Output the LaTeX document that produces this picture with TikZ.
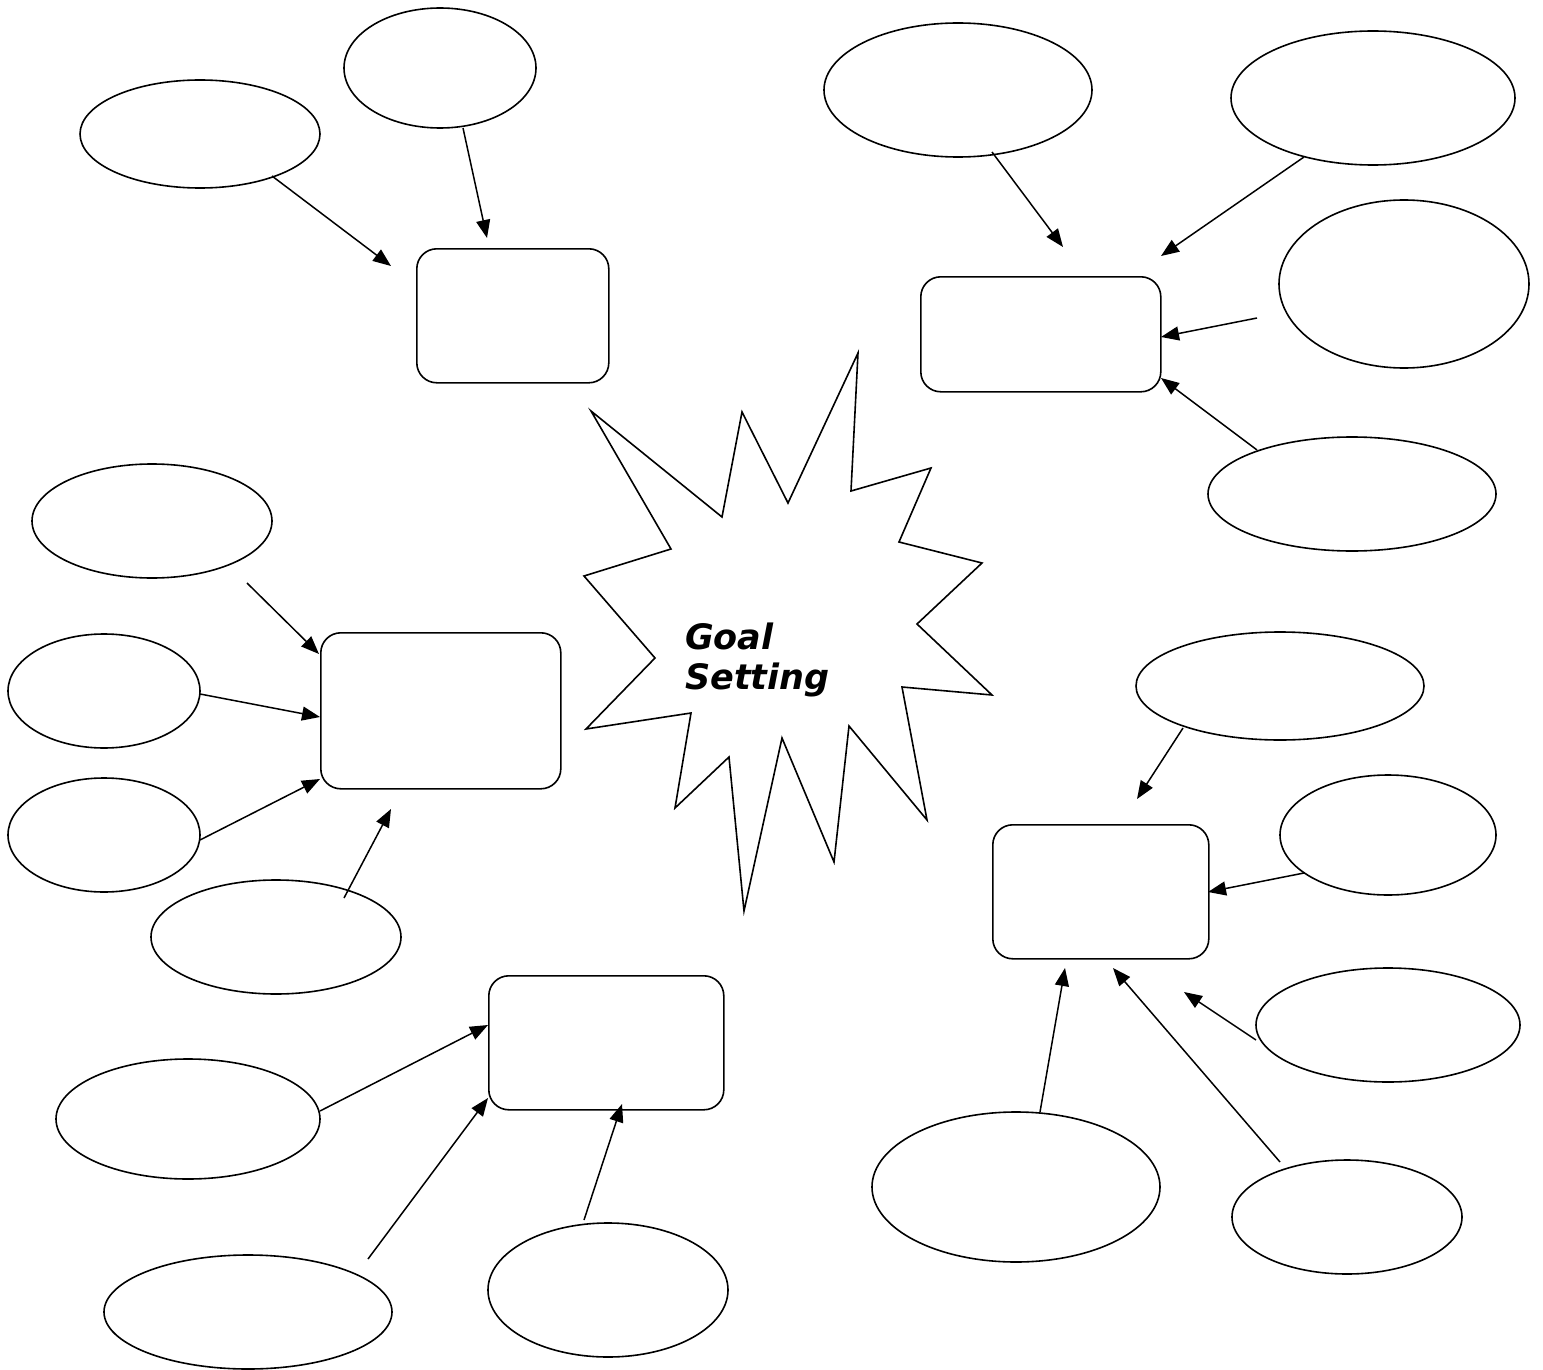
\documentclass[tikz,border=0pt]{standalone}
\usepackage{fontspec}
\newfontfamily\goalfont{DejaVu Sans}
\usetikzlibrary{shapes.geometric,arrows.meta}
\begin{document}
\begin{tikzpicture}[x=1pt,y=-1pt,
  bubble/.style={draw,ellipse,line width=1.6pt,inner sep=0pt},
  topic/.style={draw,rectangle,rounded corners=20pt,line width=1.6pt,inner sep=0pt,anchor=north west},
  link/.style={line width=1.5pt,-{Triangle[length=18pt,width=14pt]}}]
\useasboundingbox (0,0) rectangle (1543,1370);
\fill[white] (0,0) rectangle (1543,1370);

% central burst
\draw[line width=1.6pt,line join=miter] (591,411) -- (722,517) -- (742,412) -- (788,503) -- (858,353)
  -- (851,491) -- (931,468) -- (899,542) -- (982,563) -- (917,624) -- (992,695)
  -- (902,687) -- (927,820) -- (849,726) -- (834,862) -- (782,738) -- (744,911)
  -- (729,757) -- (675,808) -- (691,713) -- (586,729) -- (655,658) -- (584,576)
  -- (671,549) -- cycle;
\node[anchor=north west,align=left,inner sep=0pt,font=\goalfont\bfseries\itshape\fontsize{35}{40}\selectfont] (goal) at (685,623) {Goal\\Setting};

% topic boxes
\node[topic,minimum width=192pt,minimum height=134pt] (tA) at (416,248) {};
\node[topic,minimum width=240pt,minimum height=115pt] (tB) at (920,276) {};
\node[topic,minimum width=240pt,minimum height=156pt] (tC) at (320,632) {};
\node[topic,minimum width=235pt,minimum height=134pt] (tD) at (488,975) {};
\node[topic,minimum width=216pt,minimum height=134pt] (tE) at (992,824) {};

% idea bubbles
\node[bubble,minimum width=240pt,minimum height=108pt] (e1) at (200,134) {};
\node[bubble,minimum width=192pt,minimum height=120pt] (e2) at (440,68) {};
\node[bubble,minimum width=268pt,minimum height=134pt] (e3) at (958,90) {};
\node[bubble,minimum width=284pt,minimum height=134pt] (e4) at (1373,98) {};
\node[bubble,minimum width=250pt,minimum height=168pt] (e5) at (1404,284) {};
\node[bubble,minimum width=288pt,minimum height=114pt] (e6) at (1352,494) {};
\node[bubble,minimum width=240pt,minimum height=114pt] (e7) at (152,521) {};
\node[bubble,minimum width=192pt,minimum height=114pt] (e8) at (104,691) {};
\node[bubble,minimum width=192pt,minimum height=114pt] (e9) at (104,835) {};
\node[bubble,minimum width=250pt,minimum height=114pt] (e10) at (276,937) {};
\node[bubble,minimum width=264pt,minimum height=120pt] (e11) at (188,1119) {};
\node[bubble,minimum width=288pt,minimum height=114pt] (e12) at (248,1312) {};
\node[bubble,minimum width=240pt,minimum height=134pt] (e13) at (608,1290) {};
\node[bubble,minimum width=288pt,minimum height=108pt] (e14) at (1280,686) {};
\node[bubble,minimum width=216pt,minimum height=120pt] (e15) at (1388,835) {};
\node[bubble,minimum width=264pt,minimum height=114pt] (e16) at (1388,1025) {};
\node[bubble,minimum width=288pt,minimum height=150pt] (e17) at (1016,1187) {};
\node[bubble,minimum width=230pt,minimum height=114pt] (e18) at (1347,1217) {};

% connector end points
\coordinate (s1) at (272,176);   \coordinate (t1) at (391,266);
\coordinate (s2) at (463,128);   \coordinate (t2) at (487,238);
\coordinate (s3) at (992,152);   \coordinate (t3) at (1063,247);
\coordinate (s4) at (1304,157);  \coordinate (t4) at (1161,256);
\coordinate (s5) at (1257,318);  \coordinate (t5) at (1161,337);
\coordinate (s6) at (1257,450);  \coordinate (t6) at (1161,378);
\coordinate (s7) at (247,583);   \coordinate (t7) at (319,654);
\coordinate (s8) at (200,694);   \coordinate (t8) at (320,717);
\coordinate (s9) at (200,840);   \coordinate (t9) at (320,779);
\coordinate (s10) at (344,898);  \coordinate (t10) at (391,809);
\coordinate (s11) at (320,1111); \coordinate (t11) at (488,1025);
\coordinate (s12) at (368,1259); \coordinate (t12) at (488,1098);
\coordinate (s13) at (584,1220); \coordinate (t13) at (622,1104);
\coordinate (s14) at (1183,728); \coordinate (t14) at (1137,799);
\coordinate (s15) at (1304,873); \coordinate (t15) at (1208,892);
\coordinate (s16) at (1256,1040);\coordinate (t16) at (1184,992);
\coordinate (s17) at (1040,1112);\coordinate (t17) at (1065,968);
\coordinate (s18) at (1280,1162);\coordinate (t18) at (1113,968);

\foreach \i in {1,...,18} \draw[link] (s\i) -- (t\i);
\end{tikzpicture}
\end{document}
